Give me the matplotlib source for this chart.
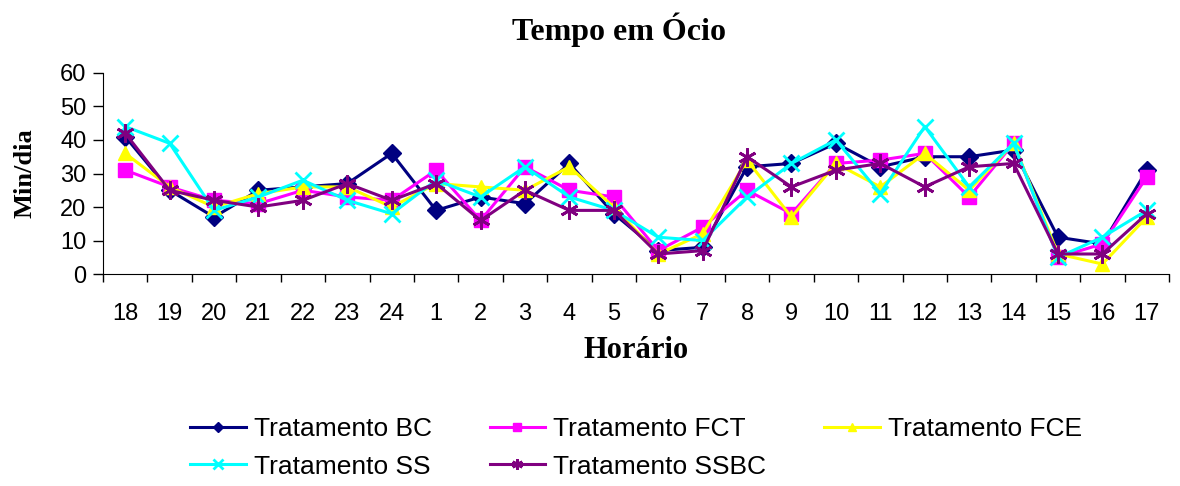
import matplotlib
matplotlib.use("Agg")
import matplotlib.pyplot as plt
import numpy as np

hours = ["18", "19", "20", "21", "22", "23", "24", "1", "2", "3", "4", "5",
         "6", "7", "8", "9", "10", "11", "12", "13", "14", "15", "16", "17"]
bc   = [41, 25, 17, 25, 26, 27, 36, 19, 23, 21, 33, 18, 7, 8, 32, 33, 39, 32, 35, 35, 37, 11, 9, 31]
fct  = [31, 26, 22, 21, 25, 23, 22, 31, 16, 32, 25, 23, 7, 14, 25, 18, 33, 34, 36, 23, 39, 5, 9, 29]
fce  = [36, 26, 20, 24, 26, 26, 20, 27, 26, 25, 32, 20, 6, 12, 34, 17, 33, 26, 36, 25, 39, 6, 3, 17]
ss   = [44, 39, 19, 23, 28, 22, 18, 28, 23, 32, 23, 19, 11, 10, 23, 33, 40, 24, 44, 26, 39, 5, 11, 19]
ssbc = [42, 25, 22, 20, 22, 27, 22, 27, 16, 25, 19, 19, 6, 7, 35, 26, 31, 33, 26, 32, 33, 6, 6, 18]
labels = ["Tratamento BC", "Tratamento FCT", "Tratamento FCE", "Tratamento SS", "Tratamento SSBC"]

fig = plt.figure(figsize=(11.8, 4.86), dpi=100)
ax = fig.add_axes([0.0873, 0.436, 0.9034, 0.414])
x = np.arange(len(hours))

series = [bc, fct, fce, ss, ssbc]
colors = ["#000080", "#FF00FF", "#FFFF00", "#00FFFF", "#800080"]
markers = ["D", "s", "^", "x", (6, 2, 0)]
msizes = [9, 10, 10, 12, 13]
handles = []
for s, c, m, ms, lab in zip(series, colors, markers, msizes, labels):
    h, = ax.plot(x, s, color=c, marker=m, markersize=ms, lw=2.2,
                 markeredgewidth=2 if m in ("x", (6, 2, 0)) else 1,
                 markeredgecolor=c, markerfacecolor=c, label=lab, clip_on=False)
    handles.append(h)

ax.set_xlim(-0.5, len(hours) - 0.5)
ax.set_ylim(0, 60)
ax.set_yticks(range(0, 61, 10))
ax.set_xticks(x)
ax.set_xticklabels(hours)
ax.set_xticks(np.arange(-0.5, len(hours), 1), minor=True)
ax.tick_params(axis="x", which="major", length=0, pad=21, labelsize=17)
ax.tick_params(axis="x", which="minor", length=6, width=1, direction="out")
ax.tick_params(axis="y", length=7, width=1, direction="out", labelsize=17, pad=5)
for lab in ax.get_xticklabels() + ax.get_yticklabels():
    lab.set_fontfamily("Liberation Sans")
ax.spines["top"].set_visible(False)
ax.spines["right"].set_visible(False)

serif = "Liberation Serif"
fig.text(0.525, 0.938, "Tempo em Ócio", ha="center", va="center",
         fontfamily=serif, fontweight="bold", fontsize=23)
ax.set_xlabel("Horário", fontfamily=serif, fontweight="bold", fontsize=22, labelpad=8)
ax.set_ylabel("Min/dia", fontfamily=serif, fontweight="bold", fontsize=19, labelpad=17)

order = [0, 3, 1, 4, 2]
leg = fig.legend([handles[i] for i in order], [labels[i] for i in order],
                 loc="center", bbox_to_anchor=(0.539, 0.078), ncol=3, frameon=False,
                 prop={"family": "Liberation Sans", "size": 19}, markerscale=0.6,
                 handlelength=2.1, columnspacing=2.2, handletextpad=0.3, labelspacing=0.5)

fig.savefig("out.png", dpi=100)
